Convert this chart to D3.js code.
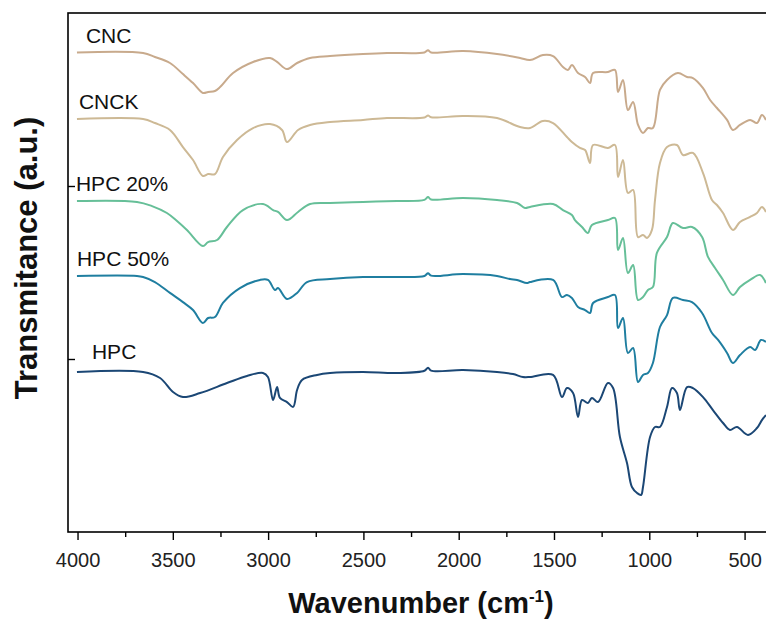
<!DOCTYPE html>
<html>
<head>
<meta charset="utf-8">
<script src="https://cdn.jsdelivr.net/npm/d3@7"></script>
<style>
  body { margin: 0; background: #fff; }
  svg { display: block; font-family: "Liberation Sans", Arial, sans-serif; }
</style>
</head>
<body>
<svg id="chart"></svg>
<script>
// FTIR spectra, [wavenumber (cm-1), transmittance offset (a.u.)]
const names = ['CNC', 'CNCK', 'HPC 20%', 'HPC 50%', 'HPC'];

const cnc = [
    [4003, 27.72], [3656, 27.69], [3594, 27.46], [3515, 27.11], [3447, 26.47], [3394, 25.95],
    [3342, 25.38], [3315, 25.43], [3279, 25.49], [3252, 25.72], [3184, 26.53], [3079, 27.17],
    [2990, 27.40], [2953, 27.17], [2901, 26.76], [2848, 27.11], [2780, 27.40], [2675, 27.51],
    [2502, 27.63], [2376, 27.69], [2180, 27.72], [2161, 27.85], [2145, 27.72], [1977, 27.80],
    [1799, 27.63], [1678, 27.40], [1626, 27.28], [1558, 27.57], [1505, 27.51], [1453, 26.88],
    [1427, 26.71], [1406, 26.99], [1374, 26.53], [1337, 26.30], [1311, 25.95], [1295, 26.53],
    [1217, 26.59], [1180, 26.71], [1164, 25.43], [1138, 26.13], [1112, 24.39], [1085, 24.86],
    [1059, 23.53], [1033, 23.06], [1007, 23.35], [981, 23.35], [944, 25.55], [907, 26.13],
    [850, 26.53], [802, 26.30], [771, 26.24], [718, 25.66], [681, 24.97], [645, 24.51],
    [592, 23.82], [561, 23.24], [524, 23.53], [471, 23.82], [435, 23.64], [409, 24.10],
    [388, 23.82]
];

const cnck = [
    [4003, 23.87], [3656, 23.87], [3594, 23.64], [3515, 23.24], [3447, 22.25], [3394, 21.50],
    [3342, 20.58], [3315, 20.69], [3279, 20.69], [3237, 21.68], [3163, 22.66], [3079, 23.35],
    [2990, 23.58], [2927, 23.24], [2901, 22.54], [2843, 23.24], [2780, 23.53], [2675, 23.70],
    [2502, 23.82], [2376, 23.93], [2180, 23.96], [2161, 24.08], [2145, 23.97], [1977, 24.05],
    [1799, 23.93], [1678, 23.41], [1626, 23.35], [1558, 23.76], [1505, 23.64], [1432, 22.83],
    [1406, 22.54], [1364, 22.20], [1337, 22.08], [1311, 21.33], [1295, 22.37], [1217, 22.20],
    [1180, 22.37], [1164, 20.52], [1138, 21.50], [1112, 19.60], [1085, 19.77], [1059, 17.05],
    [1033, 17.17], [1012, 17.00], [986, 17.46], [970, 19.19], [944, 21.33], [907, 22.25],
    [855, 22.37], [823, 21.79], [771, 21.91], [718, 20.75], [671, 19.19], [645, 18.90],
    [613, 18.44], [561, 17.46], [524, 17.92], [471, 18.21], [435, 18.44], [409, 18.79],
    [388, 18.50]
];

const hpc20 = [
    [4003, 19.13], [3688, 19.08], [3609, 18.84], [3531, 18.44], [3478, 17.98], [3426, 17.46],
    [3342, 16.53], [3315, 16.76], [3268, 16.88], [3216, 17.63], [3132, 18.61], [3027, 18.96],
    [2974, 18.61], [2948, 18.50], [2901, 18.03], [2843, 18.50], [2780, 18.96], [2675, 19.02],
    [2502, 19.08], [2324, 19.13], [2180, 19.20], [2161, 19.36], [2145, 19.22], [1977, 19.31],
    [1799, 19.19], [1694, 19.02], [1652, 18.73], [1626, 18.79], [1505, 18.96], [1453, 18.61],
    [1406, 18.32], [1390, 18.03], [1353, 17.63], [1322, 17.28], [1301, 17.75], [1217, 18.03],
    [1180, 18.15], [1164, 16.30], [1138, 17.00], [1112, 14.97], [1085, 15.43], [1059, 13.41],
    [1033, 13.58], [1007, 13.99], [981, 14.16], [960, 16.13], [907, 17.05], [876, 17.86],
    [823, 17.57], [776, 17.63], [723, 17.05], [692, 15.90], [655, 15.26], [613, 14.57],
    [561, 13.70], [524, 14.16], [471, 14.57], [419, 14.86], [388, 14.39]
];

const hpc50 = [
    [4003, 14.80], [3688, 14.80], [3656, 14.74], [3594, 14.45], [3515, 13.82], [3447, 13.29],
    [3394, 12.83], [3342, 12.08], [3315, 12.37], [3279, 12.43], [3237, 13.24], [3148, 14.10],
    [3043, 14.57], [3001, 14.57], [2964, 13.99], [2948, 14.10], [2901, 13.47], [2848, 13.82],
    [2796, 14.45], [2675, 14.62], [2502, 14.74], [2324, 14.74], [2180, 14.80], [2161, 14.96],
    [2145, 14.82], [1977, 14.91], [1799, 14.80], [1731, 14.62], [1694, 14.57], [1642, 14.39],
    [1626, 14.45], [1505, 14.57], [1458, 13.58], [1432, 13.70], [1406, 13.53], [1374, 13.01],
    [1337, 12.83], [1311, 12.66], [1295, 13.24], [1217, 13.58], [1180, 13.70], [1164, 11.79],
    [1138, 12.37], [1112, 10.35], [1085, 10.64], [1059, 8.67], [1033, 9.08], [1007, 9.19],
    [981, 9.77], [944, 11.85], [907, 12.54], [876, 13.53], [823, 13.41], [776, 13.29],
    [723, 12.66], [671, 11.50], [639, 11.10], [592, 10.35], [561, 9.77], [524, 10.23],
    [471, 10.69], [445, 10.52], [414, 11.10], [388, 10.98]
];

const hpc = [
    [4003, 9.25], [3656, 9.25], [3567, 8.90], [3499, 8.09], [3447, 7.80], [3357, 8.03],
    [3216, 8.61], [3111, 9.02], [3027, 9.19], [3001, 8.96], [2974, 7.63], [2953, 8.38],
    [2938, 7.75], [2901, 7.51], [2869, 7.23], [2848, 8.21], [2822, 8.79], [2743, 9.08],
    [2675, 9.19], [2502, 9.25], [2324, 9.19], [2180, 9.32], [2161, 9.50], [2145, 9.33],
    [1977, 9.36], [1799, 9.25], [1715, 9.13], [1663, 8.96], [1626, 8.96], [1505, 9.08],
    [1458, 7.80], [1432, 8.32], [1400, 8.03], [1374, 6.65], [1353, 7.63], [1322, 7.46],
    [1301, 7.75], [1269, 7.51], [1217, 8.61], [1190, 8.32], [1154, 5.49], [1117, 3.99],
    [1091, 2.60], [1064, 2.25], [1043, 2.14], [1033, 2.60], [996, 5.49], [970, 6.07],
    [944, 6.07], [907, 7.23], [881, 8.32], [855, 8.03], [839, 7.05], [802, 8.38],
    [771, 8.32], [718, 7.80], [666, 7.05], [613, 6.30], [577, 5.90], [540, 6.07],
    [482, 5.61], [435, 6.01], [409, 6.47], [388, 6.76]
];

const xTicks = [4000, 3500, 3000, 2500, 2000, 1500, 1000, 500];
const xMinorTicks = [3750, 3250, 2750, 2250, 1750, 1250, 750];
const yTicks = [10, 20];

const spectra = [cnc, cnck, hpc20, hpc50, hpc];
const colors = ['#c8aa8c', '#cdb995', '#66bf98', '#1f7ea0', '#1b4775'];
// label offset from the start of each curve
const labelDx = [9, 2, -1, 0, 15];
const labelDy = [-9, -10, -10, -10, -13];

const W = 766, H = 619;
const margin = {top: 13, right: 0, bottom: 87, left: 68};

const svg = d3.select('#chart').attr('width', W).attr('height', H);

const x = d3.scaleLinear().domain([4050, 385]).range([margin.left, 766.5]);
const y = d3.scaleLinear().domain([0, 30]).range([H - margin.bottom, margin.top]);

const line = d3.line()
    .x(d => x(d[0]))
    .y(d => y(d[1]))
    .curve(d3.curveCatmullRom.alpha(0.5));

// curves
svg.append('g')
    .selectAll('path')
    .data(spectra)
    .join('path')
    .attr('fill', 'none')
    .attr('stroke', (d, i) => colors[i])
    .attr('stroke-width', 2)
    .attr('stroke-linejoin', 'round')
    .attr('d', line);

// series labels
svg.append('g')
    .selectAll('text')
    .data(spectra)
    .join('text')
    .attr('x', (d, i) => x(d[0][0]) + labelDx[i])
    .attr('y', (d, i) => y(d[0][1]) + labelDy[i])
    .attr('font-size', 21)
    .attr('fill', '#111')
    .text((d, i) => names[i]);

// frame (right side runs past the page edge)
svg.append('rect')
    .attr('x', margin.left)
    .attr('y', margin.top)
    .attr('width', W - margin.left + 10)
    .attr('height', y(0) - margin.top)
    .attr('fill', 'none')
    .attr('stroke', '#000')
    .attr('stroke-width', 1.6);

// x axis
const xAxis = svg.append('g')
    .attr('transform', `translate(0,${y(0)})`)
    .call(d3.axisBottom(x).tickValues(xTicks).tickSize(8).tickPadding(13).tickFormat(d3.format('d')));
xAxis.select('.domain').remove();
xAxis.selectAll('.tick line').attr('stroke-width', 1.4);
xAxis.selectAll('.tick text')
    .attr('font-size', 20)
    .attr('font-family', '"Liberation Sans", Arial, sans-serif')
    .attr('fill', '#222');

const xMinor = svg.append('g')
    .attr('transform', `translate(0,${y(0)})`)
    .call(d3.axisBottom(x).tickValues(xMinorTicks).tickSize(5).tickFormat(''));
xMinor.select('.domain').remove();
xMinor.selectAll('.tick line').attr('stroke-width', 1.4);

// y axis: only two inward ticks, no labels
const yAxis = svg.append('g')
    .attr('transform', `translate(${margin.left},0)`)
    .call(d3.axisLeft(y).tickValues(yTicks).tickSize(-7).tickFormat(''));
yAxis.select('.domain').remove();
yAxis.selectAll('.tick line').attr('stroke-width', 1.4);

// axis titles
svg.append('text')
    .attr('transform', `translate(37,258) rotate(-90)`)
    .attr('text-anchor', 'middle')
    .attr('font-size', 31)
    .attr('font-weight', 'bold')
    .attr('fill', '#111')
    .text('Transmitance (a.u.)');

const xt = svg.append('text')
    .attr('x', 421)
    .attr('y', 613)
    .attr('text-anchor', 'middle')
    .attr('font-size', 29)
    .attr('font-weight', 'bold')
    .attr('fill', '#111');
xt.append('tspan').text('Wavenumber (cm');
xt.append('tspan').attr('font-size', 17).attr('dy', -11).text('-1');
xt.append('tspan').attr('dy', 11).text(')');
</script>
</body>
</html>
